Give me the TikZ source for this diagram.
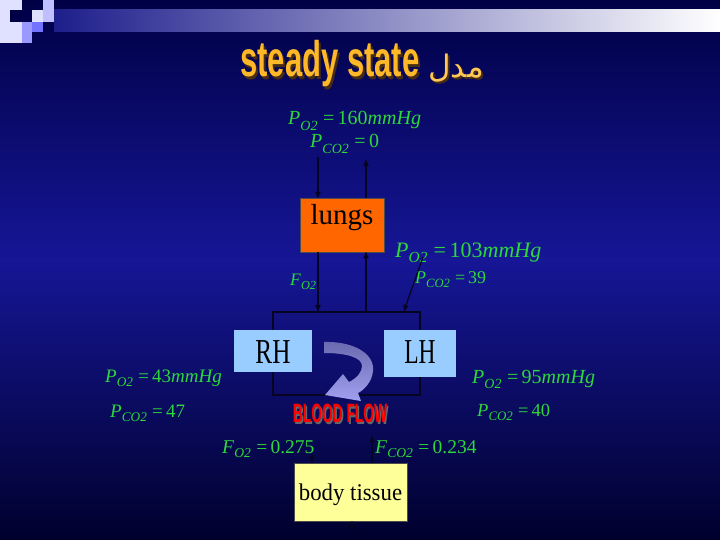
\documentclass[tikz,border=0pt]{standalone}
\usepackage{fontspec}
\setmainfont{Liberation Serif}
\newfontfamily\titlefont{Liberation Sans}
\newfontfamily\arabicfont[Script=Arabic]{DejaVu Sans}
\TeXXeTstate=1
\usetikzlibrary{arrows, positioning, calc}

\definecolor{bgtop}{RGB}{0,0,70}
\definecolor{bgmid}{RGB}{22,22,150}
\definecolor{bgbot}{RGB}{0,0,45}
\definecolor{bandblue}{RGB}{30,30,140}
\definecolor{labelgreen}{RGB}{45,215,60}
\definecolor{linkdark}{RGB}{5,5,35}
\definecolor{lungorange}{RGB}{255,102,0}
\definecolor{heartblue}{RGB}{153,204,255}
\definecolor{tissueyellow}{RGB}{255,255,153}
\definecolor{titleorange}{RGB}{255,185,40}
\definecolor{titleshadow}{RGB}{70,45,20}
\definecolor{flowlav}{RGB}{160,160,240}
\definecolor{flowdark}{RGB}{105,105,175}

\newcommand{\gas}[2]{\textit{#1}\raisebox{-0.55ex}{\scalebox{0.7}{\textit{#2}}}}
\newcommand{\dropshadow}[4]{\makebox[0pt][l]{\kern#1\raisebox{-#2}{\color{#3}#4}}#4}

\begin{document}
\begin{tikzpicture}[x=1pt, y=-1pt]
\tikzset{
>=stealth',
  gaslabel/.style={
    text=labelgreen,
    inner sep=0pt,
    anchor=base west,
    font=\fontsize{#1}{#1}\selectfont},
  gaslabel/.default=20,
  organ/.style={
    rectangle,
    fill=#1,
    draw=black!70,
    inner sep=0pt,
    text=black,
    text depth=0pt},
  heartframe/.style={
    rectangle,
    draw=linkdark, line width=2pt,
    minimum width=147, minimum height=83},
  titletext/.style={
    anchor=base, inner sep=0pt,
    font=\titlefont\bfseries\fontsize{50}{50}\selectfont},
  flowtext/.style={
    anchor=base, inner sep=0pt,
    font=\titlefont\bfseries\fontsize{26.5}{26.5}\selectfont},
  link/.style={->, line width=1.2pt, draw=linkdark},
}
\useasboundingbox (0,0) rectangle (720,540);

% slide background
\shade[top color=bgtop, bottom color=bgmid] (0,0) rectangle (720,260);
\shade[top color=bgmid, bottom color=bgbot] (0,260) rectangle (720,540);
\shade[left color=bandblue, right color=white] (54,10) rectangle (720,32);
\fill[white!88!blue] (0,0) rectangle (22,43);
\fill[bgtop] (10,10) rectangle (22,22);
\fill[white!75!blue] (43,0) rectangle (54,22);
\fill[white!88!blue] (32,10) rectangle (43,22);
\fill[white!60!blue] (22,22) rectangle (32,32);
\fill[white!45!blue] (32,22) rectangle (43,32);
\fill[white!60!blue] (22,32) rectangle (32,43);

% title
\node[titletext, text=titleorange] (title) at (330,77)
  {\dropshadow{2pt}{3pt}{titleshadow}{\scalebox{0.62}[1]{steady state}}};
\node[anchor=base, inner sep=0pt, text=titleorange!80!white, font=\fontsize{31}{31}\selectfont] (titlear) at (456,78)
  {\dropshadow{2pt}{2pt}{titleshadow}{\arabicfont\beginR مدل\endR}};

% organs
\node[organ=lungorange, minimum width=84, minimum height=54, text height=8, text depth=8,
  font=\fontsize{29}{29}\selectfont] (lungs) at (342,225) {lungs};
\node[heartframe] (heart) at (346.5,353.5) {};
\node[organ=heartblue, draw=none, minimum width=78, minimum height=42, text height=24,
  font=\fontsize{35}{35}\selectfont] (rh) at (273,351) {\scalebox{0.72}[1]{RH}};
\node[organ=heartblue, draw=none, minimum width=72, minimum height=47, text height=19,
  font=\fontsize{35}{35}\selectfont] (lh) at (420,353.5) {\scalebox{0.67}[1]{LH}};
\node[organ=tissueyellow, minimum width=113, minimum height=58, text height=16,
  font=\fontsize{24}{24}\selectfont] (tissue) at (350.5,492) {\scalebox{0.95}[1]{body tissue}};

% blood flow arrow
\shade[top color=flowdark, bottom color=flowlav]
  (324,342) .. controls (352,341) and (375,353) .. (373,371)
  .. controls (372,382) and (364,390) .. (358,393)
  -- (361,401) -- (325,395) -- (343,374) -- (349,382)
  .. controls (357,378) and (362,372) .. (362,366)
  .. controls (362,358) and (348,353) .. (324,353) -- cycle;
\node[flowtext, text=red] (flow) at (340,422)
  {\dropshadow{1.5pt}{2pt}{black!60}{\scalebox{0.52}[1]{BLOOD FLOW}}};

% gas values
\node[gaslabel] (po2air) at (288,125) {\gas{P}{O2}\;=\,160\textit{mmHg}};
\node[gaslabel] (pco2air) at (310,148) {\gas{P}{CO2}\;=\,0};
\node[gaslabel=22] (po2alv) at (395,257) {\gas{P}{O2}\;=\,103\textit{mmHg}};
\node[gaslabel=18] (pco2alv) at (415,283) {\gas{P}{CO2}\;=\,39};
\node[gaslabel=17.5] (fo2lung) at (290,285) {\gas{F}{O2}};
\node[gaslabel=19] (po2ven) at (105,382) {\gas{P}{O2}\;=\,43\textit{mmHg}};
\node[gaslabel=19] (pco2ven) at (110,417) {\gas{P}{CO2}\;=\,47};
\node[gaslabel] (po2art) at (472,383) {\gas{P}{O2}\;=\,95\textit{mmHg}};
\node[gaslabel=18.5] (pco2art) at (477,416) {\gas{P}{CO2}\;=\,40};
\node[gaslabel=19.5] (fo2tis) at (222,453) {\gas{F}{O2}\;=\,0.275};
\node[gaslabel=19.5] (fco2tis) at (375,453) {\gas{F}{CO2}\;=\,0.234};

% connectors
\coordinate (airin) at (318,157);
\coordinate (airout) at (366,160);
\draw[link] (airin) -- (airin |- lungs.north);
\draw[link] (lungs.north -| airout) -- (airout);
\draw[link] (lungs.south -| airin) -- (airin |- heart.north);
\draw[link] (heart.north -| airout) -- (airout |- lungs.south);
\coordinate (alvtip) at (423,257);
\draw[link] (alvtip) -- ($(heart.north east)+(-17,0)$);

\coordinate (o2down) at (312,455);
\coordinate (co2up) at (372,436);
\draw[link] (o2down) -- (o2down |- tissue.north);
\draw[link] (co2up |- tissue.north) -- (co2up);
\coordinate (tisbase) at (352,530);
\draw[link] (tisbase) -- (tisbase |- tissue.south);

\end{tikzpicture}
\end{document}
